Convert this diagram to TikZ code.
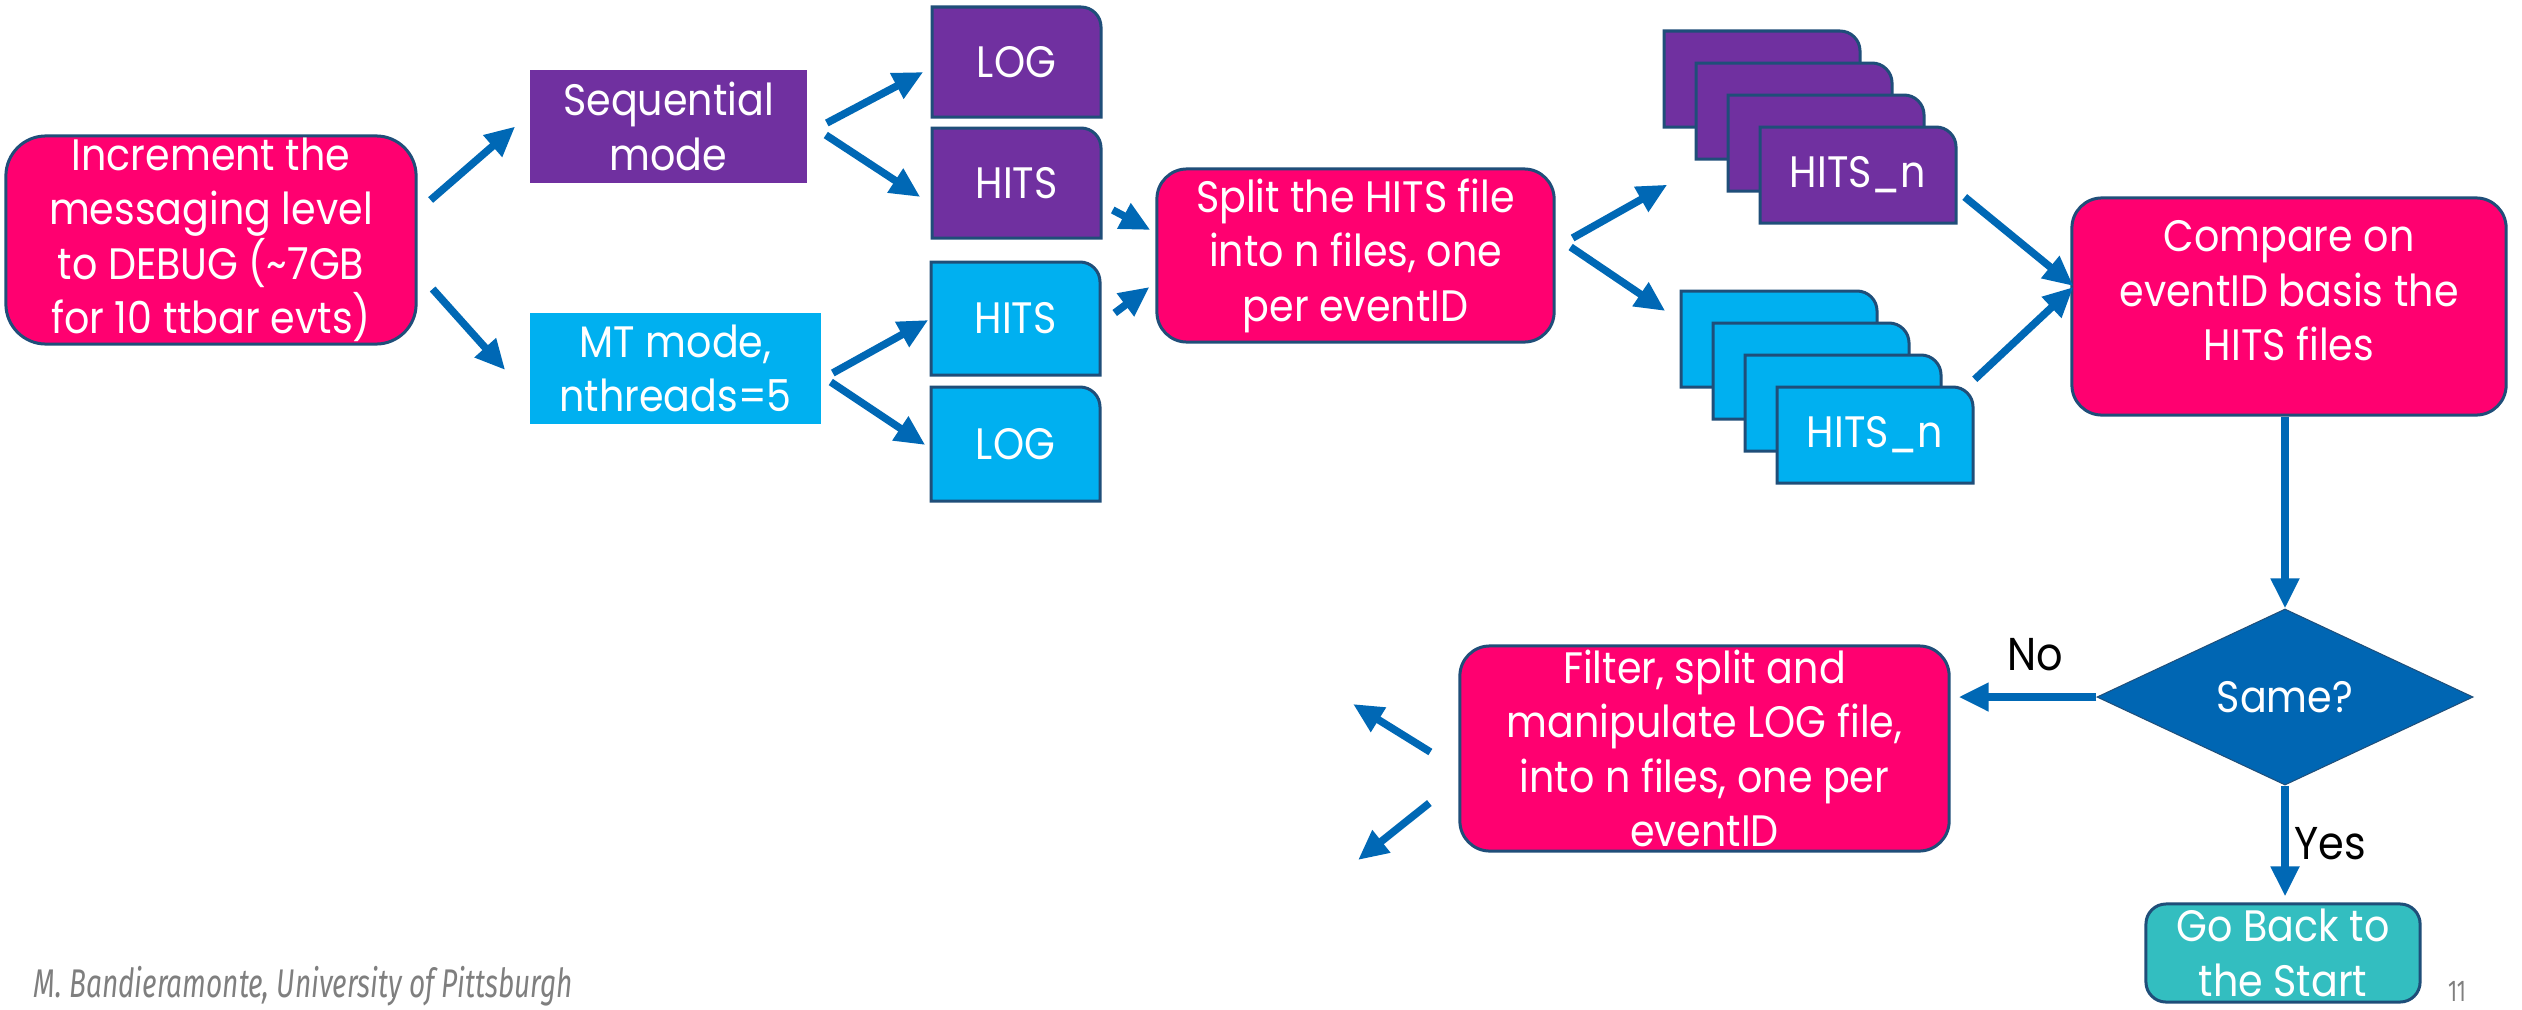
\documentclass[tikz,border=0pt]{standalone}
\usepackage{fontspec}
\setmainfont{Poppins}[FakeStretch=0.9]
\newfontfamily\footfont{Fira Sans}[FakeStretch=0.7]
\usetikzlibrary{arrows.meta,shapes.geometric,calc}

\definecolor{pinkbox}{HTML}{FF0070}
\definecolor{purplebox}{HTML}{7030A0}
\definecolor{cyanbox}{HTML}{00B0F0}
\definecolor{tealbox}{HTML}{33BEC0}
\definecolor{decision}{HTML}{0066B3}
\definecolor{arrowblue}{HTML}{0068B5}
\definecolor{edge}{HTML}{1F4E79}
\definecolor{footgray}{HTML}{7F7F7F}

\newcommand\boxfont{\fontsize{0.44cm}{0.545cm}\selectfont}

\tikzset{
  box/.style={text=white, align=center, font=\boxfont, inner sep=0pt},
  process/.style={box, draw=edge, line width=0.03cm, rounded corners=0.3cm},
  mode/.style={box},
  sheet/.style={draw=edge, line width=0.03cm},
  arr/.style={draw=arrowblue, line width=0.075cm,
    -{Triangle[length=0.3cm,width=0.27cm]}},
  tag/.style={font=\fontsize{0.46cm}{0.55cm}\selectfont, text=black, inner sep=0pt},
}

% file sheet: rectangle with a rounded top-right corner and a named node on it
% #1 name, #2 left, #3 top, #4 right, #5 bottom, #6 fill, #7 label
\newcommand\filesheet[7]{%
  \path[sheet, fill=#6] (#2,#5) -- (#2,#3) -- ({#4-20},#3)
    arc[start angle=90, end angle=0, radius=0.2cm] -- (#4,#5) -- cycle;
  \node[box, minimum width={(#4-#2)*0.01cm}, minimum height={(#5-#3)*0.01cm}]
    (#1) at ({(#2+#4)/2},{(#3+#5)/2}) {#7};
}

\begin{document}
\begin{tikzpicture}[x=0.01cm, y=-0.01cm]
\useasboundingbox[fill=white] (0,0) rectangle (2522,1009);

% start
\node[process, fill=pinkbox, rounded corners=0.4cm,
      minimum width=4.10cm, minimum height=2.08cm] (inc) at (211,240)
  {Increment the\\messaging level\\to DEBUG (\textasciitilde7GB\\for 10 ttbar evts)};

% the two running modes
\node[mode, fill=purplebox, minimum width=2.77cm, minimum height=1.13cm]
  (seq) at (668.5,126.5) {Sequential\\mode};
\node[mode, fill=cyanbox, minimum width=2.91cm, minimum height=1.11cm]
  (mt) at (675.5,368.5) {MT mode,\\nthreads=5};

% output files of each mode
\filesheet{logP}{932}{7}{1101}{117}{purplebox}{LOG}
\filesheet{hitsP}{932}{128}{1101}{238}{purplebox}{HITS}
\filesheet{hitsC}{931}{262}{1100}{375}{cyanbox}{HITS}
\filesheet{logC}{931}{387}{1100}{501}{cyanbox}{LOG}

% splitting step
\node[process, fill=pinkbox, minimum width=3.97cm, minimum height=1.73cm]
  (split) at (1355.5,255.5) {Split the HITS file\\into n files, one\\per eventID};

% stacks of per-event HITS files
\filesheet{pn0}{1664}{31}{1860}{127}{purplebox}{}
\filesheet{pn1}{1696}{63}{1892}{159}{purplebox}{}
\filesheet{pn2}{1728}{95}{1924}{191}{purplebox}{}
\filesheet{pn3}{1760}{127}{1956}{223}{purplebox}{HITS\_n}
\filesheet{cn0}{1681}{291}{1877}{387}{cyanbox}{}
\filesheet{cn1}{1713}{323}{1909}{419}{cyanbox}{}
\filesheet{cn2}{1745}{355}{1941}{451}{cyanbox}{}
\filesheet{cn3}{1777}{387}{1973}{483}{cyanbox}{HITS\_n}

% comparison and decision (text sits a little above the middle)
\node[process, fill=pinkbox, minimum width=4.34cm, minimum height=2.17cm]
  (cmp) at (2289,306.5) {Compare on\\eventID basis the\\HITS files\\[-0.225cm]\mbox{}};
\node[diamond, fill=decision, draw=edge, line width=0.01cm, inner sep=0pt,
      minimum width=3.76cm, minimum height=1.76cm, text=white, font=\boxfont]
  (same) at (2285,697) {Same?};

\node[process, fill=pinkbox, minimum width=4.89cm, minimum height=2.05cm]
  (filter) at (1704.5,748.5)
  {Filter, split and\\manipulate LOG file,\\into n files, one per\\eventID};
\node[process, fill=tealbox, rounded corners=0.2cm,
      minimum width=2.74cm, minimum height=0.98cm]
  (back) at (2283,953) {Go Back to\\the Start};

% connectors
\draw[arr] ($(inc.east)+(13,-40)$) -- ($(seq.west)+(-14,0)$);
\draw[arr] ($(inc.east)+(15,49)$) -- ($(mt.west)+(-24,1.5)$);
\draw[arr] ($(seq.east)+(19,-3.5)$) -- ($(logP.west)+(-8,10)$);
\draw[arr] ($(seq.east)+(18,8.5)$) -- ($(hitsP.west)+(-11,14)$);
\draw[arr] ($(mt.east)+(11,4.5)$) -- ($(hitsC.west)+(-2,1.5)$);
\draw[arr] ($(mt.east)+(9,13.5)$) -- ($(logC.west)+(-5,1)$);
\draw[arr] ($(hitsP.east)+(11,27)$) -- ($(split.west)+(-5,-25.5)$);
\draw[arr] ($(hitsC.east)+(14,-5.5)$) -- ($(split.west)+(-6,31.5)$);
\draw[arr] ($(split.east)+(17,-17.5)$) -- ($(pn0.south west)+(4,57)$);
\draw[arr] ($(split.east)+(15,-8.5)$) -- ($(cn0.west)+(-15,-28)$);
\draw[arr] ($(pn3.east)+(8,22)$) -- ($(cmp.west)+(3,-20.5)$);
\draw[arr] ($(cn3.north east)+(1,-7)$) -- ($(cmp.west)+(3,-19.5)$);
\draw[arr] (cmp.south -| same.north) -- (same.north);
\draw[arr, shorten >=0.08cm] (same.west) -- (same.west -| filter.east)
  node[tag, pos=0.42, above=0.22cm] (no) {No};
\draw[arr, shorten >=0.06cm] (same.south) -- (same.south |- back.north)
  node[tag, pos=0.5, right=0.06cm] (yes) {Yes};

% loose ends leaving the filter step
\coordinate (outA) at (1353,704);
\coordinate (outB) at (1358,860);
\draw[arr] ($(filter.west)+(-28,3.5)$) -- (outA);
\draw[arr] ($(filter.west)+(-29,54.5)$) -- (outB);

% footer
\node[anchor=base west, inner sep=0pt, text=footgray,
      font=\footfont\itshape\fontsize{0.40cm}{0.45cm}\selectfont]
  (foot) at (33,997) {M. Bandieramonte, University of Pittsburgh};
\node[anchor=base, inner sep=0pt, text=footgray,
      font=\footfont\fontsize{0.30cm}{0.35cm}\selectfont]
  (pagenum) at (2457,1001) {11};
\end{tikzpicture}
\end{document}
